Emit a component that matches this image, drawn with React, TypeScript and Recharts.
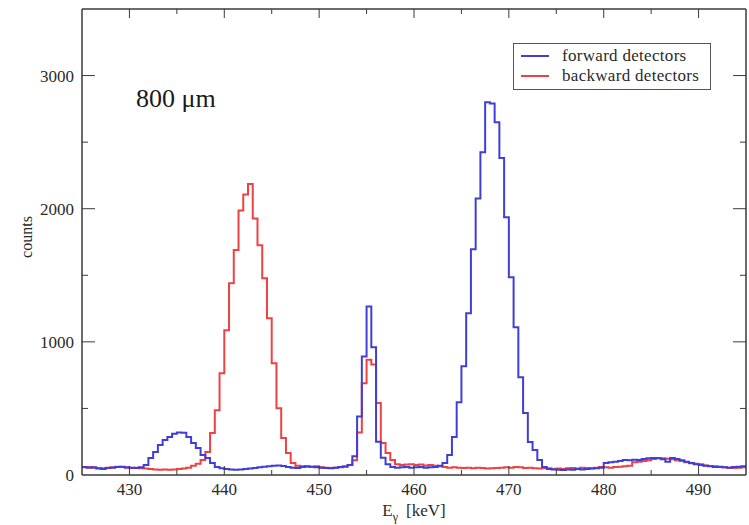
import React from 'react';
import { LineChart, Line, XAxis, YAxis } from 'recharts';

// Histogram bin width (keV) and first bin edge
const binStart = 425;
const binWidth = 0.5;

// forward detectors (blue), counts per 0.5 keV bin, 425 ... 494.5 keV
const forwardCounts = [
  60, 55, 58, 50, 45, 52, 55, 60, 62, 58,
  55, 52, 58, 75, 127, 172, 225, 262, 285, 310,
  320, 318, 285, 240, 202, 150, 127, 90, 60, 50,
  45, 42, 40, 42, 45, 48, 52, 58, 62, 65,
  70, 72, 68, 60, 55, 52, 60, 65, 62, 58,
  55, 52, 50, 55, 60, 62, 75, 140, 440, 890,
  1265, 960, 250, 130, 80, 60, 55, 58, 60, 55,
  58, 60, 55, 58, 60, 70, 90, 150, 285, 547,
  817, 1215, 1695, 2077, 2425, 2800, 2790, 2650, 2380, 1935,
  1485, 1110, 735, 465, 247, 187, 112, 60, 45, 42,
  40, 38, 42, 40, 45, 42, 45, 48, 50, 55,
  90, 95, 100, 105, 112, 110, 115, 112, 120, 125,
  127, 125, 118, 100, 127, 120, 110, 100, 90, 80,
  75, 70, 65, 60, 62, 58, 55, 60, 62, 65,
];

// backward detectors (red), counts per 0.5 keV bin, 425 ... 494.5 keV
const backwardCounts = [
  58, 60, 55, 48, 50, 55, 58, 62, 60, 55,
  52, 55, 50, 48, 45, 42, 40, 42, 40, 42,
  45, 48, 55, 70, 85, 112, 172, 315, 487, 765,
  1087, 1440, 1690, 1987, 2107, 2185, 1927, 1725, 1477, 1177,
  840, 502, 277, 165, 90, 70, 65, 62, 60, 65,
  58, 55, 52, 55, 58, 65, 75, 110, 320, 690,
  865, 830, 540, 240, 165, 112, 80, 75, 78, 80,
  75, 78, 72, 75, 70, 65, 60, 55, 58, 55,
  52, 55, 50, 55, 52, 48, 50, 52, 55, 58,
  55, 60, 58, 52, 55, 50, 48, 52, 50, 45,
  48, 45, 50, 52, 48, 55, 52, 50, 55, 60,
  58, 55, 60, 62, 65, 70, 95, 100, 105, 110,
  120, 127, 125, 122, 118, 110, 105, 95, 88, 85,
  80, 72, 68, 65, 60, 58, 55, 52, 55, 58,
];

const xTicks = [430, 435, 440, 445, 450, 455, 460, 465, 470, 475, 480, 485, 490];
const xLabelTicks = [430, 440, 450, 460, 470, 480, 490];
const yTicks = [0, 500, 1000, 1500, 2000, 2500, 3000];
const yLabelTicks = [0, 1000, 2000, 3000];

const BLUE = '#3f3fd8';
const RED = '#ee4242';
const AXIS = '#3a3a3a';
const TEXT = '#2a2a2a';
const FONT = '"Liberation Serif", "DejaVu Serif", serif';

const data = forwardCounts.map((f, i) => ({
  e: binStart + i * binWidth,
  fwd: f,
  bwd: backwardCounts[i],
}));
data.push({
  e: binStart + forwardCounts.length * binWidth,
  fwd: forwardCounts[forwardCounts.length - 1],
  bwd: backwardCounts[backwardCounts.length - 1],
});

const BottomTick = (p: any) => {
  const v = p.payload.value;
  const major = xLabelTicks.includes(v);
  return (
    <g>
      <line x1={p.x} x2={p.x} y1={p.y} y2={p.y - (major ? 9 : 5)} stroke={AXIS} strokeWidth={1} />
      {major && (
        <text x={p.x} y={p.y + 20} textAnchor="middle" fontFamily={FONT} fontSize={17} fill={TEXT}>
          {v}
        </text>
      )}
    </g>
  );
};

const TopTick = (p: any) => {
  const v = p.payload.value;
  const major = xLabelTicks.includes(v);
  return <line x1={p.x} x2={p.x} y1={p.y} y2={p.y + (major ? 9 : 5)} stroke={AXIS} strokeWidth={1} />;
};

const LeftTick = (p: any) => {
  const v = p.payload.value;
  const major = yLabelTicks.includes(v);
  return (
    <g>
      {v !== 0 && (
        <line x1={p.x} x2={p.x + (major ? 13 : 6)} y1={p.y} y2={p.y} stroke={AXIS} strokeWidth={1} />
      )}
      {major && (
        <text x={p.x - 8} y={p.y + 6} textAnchor="end" fontFamily={FONT} fontSize={17} fill={TEXT}>
          {v}
        </text>
      )}
    </g>
  );
};

const RightTick = (p: any) => {
  const v = p.payload.value;
  const major = yLabelTicks.includes(v);
  if (v === 0) return <g />;
  return <line x1={p.x} x2={p.x - (major ? 13 : 6)} y1={p.y} y2={p.y} stroke={AXIS} strokeWidth={1} />;
};

const legendItems = [
  { name: 'forward detectors', color: BLUE },
  { name: 'backward detectors', color: RED },
];

export default function App() {
  return (
    <div style={{ position: 'absolute', left: 0, top: 0, width: 749, height: 525, background: '#fff' }}>
      <LineChart
        width={749}
        height={525}
        data={data}
        margin={{ top: 8, right: 2, bottom: 49, left: 81 }}
      >
        <XAxis
          xAxisId="b"
          dataKey="e"
          type="number"
          domain={[425, 495]}
          ticks={xTicks}
          interval={0}
          height={1}
          tickSize={0}
          tickMargin={0}
          tickLine={false}
          tick={BottomTick}
          axisLine={{ stroke: AXIS, strokeWidth: 1.5 }}
          allowDataOverflow
        />
        <XAxis
          xAxisId="t"
          orientation="top"
          dataKey="e"
          type="number"
          domain={[425, 495]}
          ticks={xTicks}
          interval={0}
          height={1}
          tickSize={0}
          tickMargin={0}
          tickLine={false}
          tick={TopTick}
          axisLine={{ stroke: AXIS, strokeWidth: 1.5 }}
          allowDataOverflow
        />
        <YAxis
          yAxisId="l"
          type="number"
          domain={[0, 3500]}
          ticks={yTicks}
          interval={0}
          width={1}
          tickSize={0}
          tickMargin={0}
          tickLine={false}
          tick={LeftTick}
          axisLine={{ stroke: AXIS, strokeWidth: 1.5 }}
          allowDataOverflow
        />
        <YAxis
          yAxisId="r"
          orientation="right"
          type="number"
          domain={[0, 3500]}
          ticks={yTicks}
          interval={0}
          width={1}
          tickSize={0}
          tickMargin={0}
          tickLine={false}
          tick={RightTick}
          axisLine={{ stroke: AXIS, strokeWidth: 1.5 }}
          allowDataOverflow
        />
        <Line
          xAxisId="b"
          yAxisId="l"
          type="stepAfter"
          dataKey="bwd"
          name="backward detectors"
          stroke={RED}
          strokeWidth={2}
          dot={false}
          isAnimationActive={false}
        />
        <Line
          xAxisId="b"
          yAxisId="l"
          type="stepAfter"
          dataKey="fwd"
          name="forward detectors"
          stroke={BLUE}
          strokeWidth={2}
          dot={false}
          isAnimationActive={false}
        />
      </LineChart>
      <div
        style={{
          position: 'absolute',
          left: 513,
          top: 43,
          width: 198,
          height: 47,
          border: '1px solid #555',
          background: '#fff',
          boxSizing: 'border-box',
          fontFamily: FONT,
          fontSize: 17,
          color: TEXT,
          padding: '2px 0 0 7px',
        }}
      >
        {legendItems.map((it) => (
          <div key={it.name} style={{ display: 'flex', alignItems: 'center', height: 20, whiteSpace: 'nowrap' }}>
            <span style={{ display: 'inline-block', width: 28, height: 2, background: it.color, marginRight: 13 }} />
            <span style={{ letterSpacing: 0.3 }}>{it.name}</span>
          </div>
        ))}
      </div>
      <div
        style={{
          position: 'absolute',
          left: 136,
          top: 84,
          fontFamily: FONT,
          fontSize: 26,
          color: '#1a1a1a',
          whiteSpace: 'nowrap',
        }}
      >
        800 μm
      </div>
      <div
        style={{
          position: 'absolute',
          left: 27,
          top: 237,
          transform: 'translate(-50%, -50%) rotate(-90deg)',
          fontFamily: FONT,
          fontSize: 16,
          color: TEXT,
          whiteSpace: 'nowrap',
        }}
      >
        counts
      </div>
      <svg
        width={120}
        height={30}
        style={{ position: 'absolute', left: 354, top: 497, overflow: 'visible' }}
      >
        <text x={60} y={19} textAnchor="middle" fontFamily={FONT} fontSize={17} fill={TEXT}>
          E
          <tspan fontSize={12} dy={5}>γ</tspan>
          <tspan dy={-5} dx={8}>[keV]</tspan>
        </text>
      </svg>
    </div>
  );
}
